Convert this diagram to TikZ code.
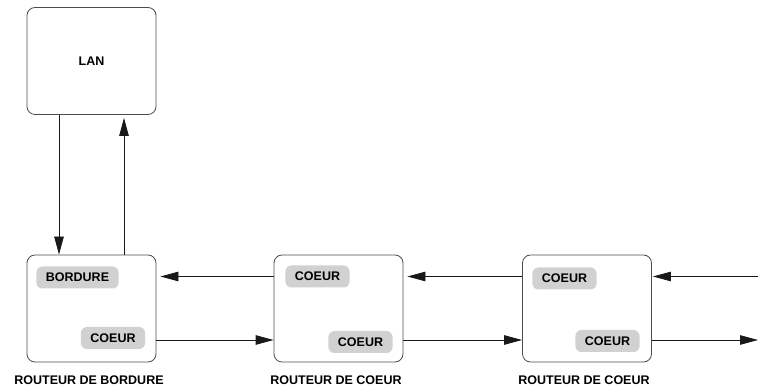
\documentclass[tikz,border=0pt]{standalone}
\usepackage{fontspec}
\setmainfont{Liberation Sans}
\usetikzlibrary{positioning,arrows.meta}
\tikzset{boite/.style={draw=black!70,line width=0.8pt,rounded corners=8pt,minimum width=129pt,minimum height=107pt},
  pastille/.style={fill=black!18,rounded corners=6pt,inner xsep=9.5pt,minimum height=22pt},
  fleche/.style={draw=black!90,line width=0.8pt,-{Triangle[length=18pt,width=9.5pt]}}}

\begin{document}
\begin{tikzpicture}[x=1pt,y=1pt,font=\fontsize{12.5}{15}\selectfont\bfseries]
    \useasboundingbox (0,0) rectangle (758,388);
    \node[boite] (lan) at (91.5,327) {LAN};  % le LAN en haut
    \node[boite] (r1) at (91.5,79.5) {};
    \node[boite] (r2) at (338.5,79.5) {};
    \node[boite] (r3) at (587,79.5) {};
    % les interfaces
    \node[pastille] (b1) at (77.5,110.5) {BORDURE};
    \node[pastille] (c1) at (113,50) {COEUR};
    \node[pastille] (c2a) at (317.5,111.5) {COEUR};
    \node[pastille] (c2b) at (360.5,46) {COEUR};
    \node[pastille] (c3a) at (564.5,109.5) {COEUR};
    \node[pastille] (c3b) at (607.5,47) {COEUR};
    \node (t1) at (89,8) {ROUTEUR DE BORDURE};
    \node (t2) at (336,8) {ROUTEUR DE COEUR};
    \node (t3) at (584,8) {ROUTEUR DE COEUR};
    \coordinate (e1) at (758,111.5);
    \coordinate (e2) at (758,48);
    % les liens
    \draw[fleche] ([xshift=-32.5pt]lan.south) -- ([xshift=-32.5pt]r1.north);
    \draw[fleche,shorten >=3pt] ([xshift=32.5pt]r1.north) -- ([xshift=32.5pt]lan.south);
    \draw[fleche,shorten >=4pt] ([yshift=32pt]r2.west) -- ([yshift=32pt]r1.east);
    \draw[fleche] ([yshift=-31.5pt]r1.east) -- ([yshift=-31.5pt]r2.west);
    \draw[fleche,shorten >=4pt] ([yshift=32pt]r3.west) -- ([yshift=32pt]r2.east);
    \draw[fleche] ([yshift=-31.5pt]r2.east) -- ([yshift=-31.5pt]r3.west);
    \draw[fleche,shorten >=1pt] (e1) -- (e1 -| r3.east);
    \draw[fleche] (e2 -| r3.east) -- (e2);
\end{tikzpicture}
\end{document}
